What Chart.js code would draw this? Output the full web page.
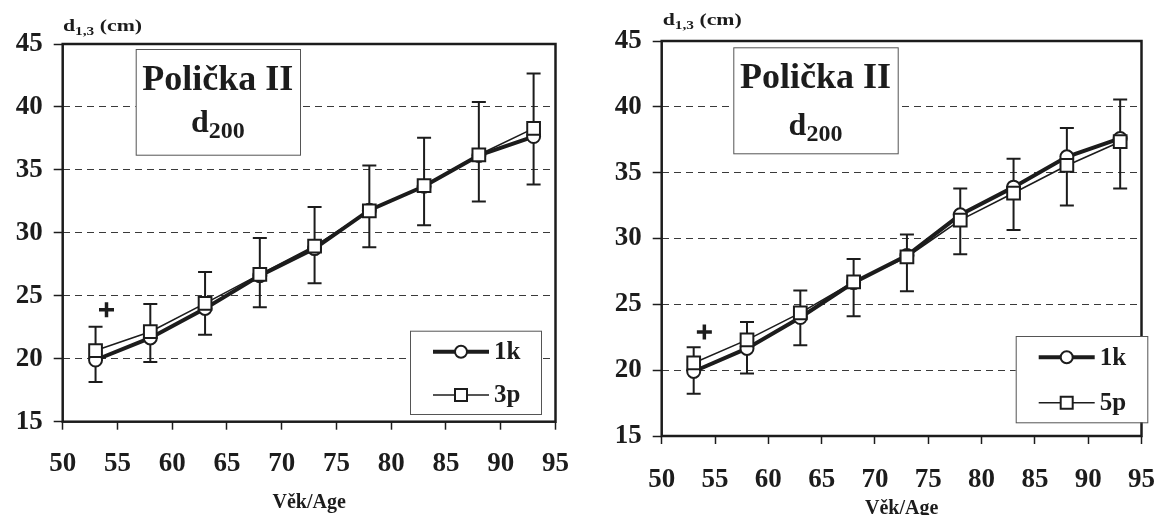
<!DOCTYPE html>
<html>
<head>
<meta charset="utf-8">
<script src="https://cdn.jsdelivr.net/npm/chart.js@4.4.0/dist/chart.umd.min.js"></script>
<style>
  html, body { margin: 0; padding: 0; background: #fff; }
  #wrap { position: relative; width: 1175px; height: 515px; }
  .panel { position: absolute; top: 0; height: 515px; }
</style>
</head>
<body>
<div id="wrap">
  <div class="panel" style="left:0;width:587px"><canvas id="chartLeft" width="587" height="515"></canvas></div>
  <div class="panel" style="left:587px;width:588px"><canvas id="chartRight" width="588" height="515"></canvas></div>
</div>
<script>
// ages (x values) shared by both panels
const ages = [53, 58, 63, 68, 73, 78, 83, 88, 93];

// left panel: 1k vs 3p
const left1k = [19.9, 21.65, 24.0, 26.6, 28.75, 31.8, 33.7, 36.15, 37.65];
const left3p = [20.65, 22.15, 24.4, 26.7, 28.95, 31.75, 33.75, 36.2, 38.3];
const leftErrLow = [18.15, 19.75, 21.9, 24.1, 26.0, 28.85, 30.6, 32.5, 33.85];
const leftErrHigh = [22.55, 24.35, 26.9, 29.6, 32.05, 35.35, 37.55, 40.4, 42.65];
const leftPlus = [{ x: 54, y: 23.9 }];

// right panel: 1k vs 5p
const right1k = [19.9, 21.65, 24.0, 26.65, 28.7, 31.8, 33.9, 36.2, 37.6];
const right5p = [20.55, 22.3, 24.35, 26.7, 28.6, 31.4, 33.45, 35.55, 37.35];
const rightErrLow = [18.2, 19.75, 21.9, 24.1, 26.0, 28.8, 30.65, 32.5, 33.8];
const rightErrHigh = [21.75, 23.65, 26.05, 28.45, 30.3, 33.8, 36.05, 38.4, 40.55];
const rightPlus = [{ x: 54, y: 22.9 }];

const FONT = "'Liberation Serif', 'Times New Roman', serif";
const INK = '#1c1c1c';

function pts(vals) {
  return ages.map((a, i) => ({ x: a, y: vals[i] }));
}

function drawSub(ctx, base, sub, x, y, baseSize, subSize, drop, align) {
  ctx.font = `bold ${baseSize}px ${FONT}`;
  const wb = ctx.measureText(base).width;
  ctx.font = `bold ${subSize}px ${FONT}`;
  const ws = ctx.measureText(sub).width;
  let sx = align === 'center' ? x - (wb + ws) / 2 : x;
  ctx.textAlign = 'left';
  ctx.textBaseline = 'alphabetic';
  ctx.font = `bold ${baseSize}px ${FONT}`;
  ctx.fillText(base, sx, y);
  ctx.font = `bold ${subSize}px ${FONT}`;
  ctx.fillText(sub, sx + wb, y + drop);
  return sx + wb + ws;
}

function makePanel(id, p) {
  const decor = {
    id: 'decor' + id,
    beforeDatasetsDraw(chart) {
      const { ctx, chartArea: a, scales: { x, y } } = chart;
      ctx.save();
      // error bars
      ctx.strokeStyle = INK;
      ctx.lineWidth = 2;
      ages.forEach((age, i) => {
        const px = x.getPixelForValue(age);
        const t = y.getPixelForValue(p.errHigh[i]);
        const b = y.getPixelForValue(p.errLow[i]);
        ctx.beginPath();
        ctx.moveTo(px, t); ctx.lineTo(px, b);
        ctx.moveTo(px - 7, t); ctx.lineTo(px + 7, t);
        ctx.moveTo(px - 7, b); ctx.lineTo(px + 7, b);
        ctx.stroke();
      });
      // frame
      ctx.lineWidth = 2.5;
      ctx.strokeRect(a.left, a.top, a.right - a.left, a.bottom - a.top);
      ctx.restore();
    },
    afterDraw(chart) {
      const { ctx } = chart;
      ctx.save();
      ctx.fillStyle = INK;
      // unit label above the y axis (text is drawn a bit wide, as in the source)
      ctx.save();
      ctx.translate(p.unit.x, p.unit.y);
      ctx.scale(1.28, 1);
      const end = drawSub(ctx, 'd', '1,3', 0, 0, 17, 12, 4, 'left');
      ctx.font = `bold 17px ${FONT}`;
      ctx.fillText(' (cm)', end, 0);
      ctx.restore();

      // title box
      const tb = p.titleBox;
      ctx.fillStyle = '#fff';
      ctx.fillRect(tb.x, tb.y, tb.w, tb.h);
      ctx.strokeStyle = '#555';
      ctx.lineWidth = 1;
      ctx.strokeRect(tb.x + 0.5, tb.y + 0.5, tb.w, tb.h);
      ctx.fillStyle = INK;
      ctx.font = `bold 36px ${FONT}`;
      ctx.textAlign = 'center';
      ctx.textBaseline = 'alphabetic';
      ctx.fillText('Polička II', tb.x + tb.w / 2, tb.line1);
      drawSub(ctx, 'd', '200', tb.x + tb.w / 2, tb.line2, 32, 24, 6, 'center');

      // legend box
      const lb = p.legendBox;
      ctx.fillStyle = '#fff';
      ctx.fillRect(lb.x, lb.y, lb.w, lb.h);
      ctx.strokeStyle = '#555';
      ctx.lineWidth = 1;
      ctx.strokeRect(lb.x + 0.5, lb.y + 0.5, lb.w, lb.h);
      const rows = chart.data.datasets.filter(d => d.inLegend).sort((m, n) => m.legendRow - n.legendRow);
      rows.forEach((ds, r) => {
        const ry = lb.y + lb.rowY[r];
        const x0 = lb.x + 23, x1 = lb.x + 79, cx = (x0 + x1) / 2;
        ctx.strokeStyle = INK;
        ctx.lineWidth = ds.borderWidth;
        ctx.beginPath(); ctx.moveTo(x0, ry); ctx.lineTo(x1, ry); ctx.stroke();
        ctx.lineWidth = 2;
        ctx.fillStyle = '#fff';
        ctx.beginPath();
        if (ds.pointStyle === 'circle') {
          ctx.arc(cx, ry, 6, 0, Math.PI * 2);
        } else {
          ctx.rect(cx - 6, ry - 6, 12, 12);
        }
        ctx.fill(); ctx.stroke();
        ctx.fillStyle = INK;
        ctx.font = `bold 25px ${FONT}`;
        ctx.textAlign = 'left';
        ctx.textBaseline = 'middle';
        ctx.fillText(ds.label, x1 + 5, ry + 1);
      });
      ctx.restore();
    }
  };

  return new Chart(document.getElementById(id), {
    type: 'line',
    data: {
      datasets: [
        {
          label: p.otherLabel,
          data: pts(p.other),
          borderColor: INK, borderWidth: 1.6,
          pointStyle: 'rect', pointRadius: 9, pointBorderWidth: 2,
          pointBackgroundColor: '#fff', pointBorderColor: INK,
          tension: 0, order: 1, inLegend: true, legendRow: 1
        },
        {
          label: '1k',
          data: pts(p.k1),
          borderColor: INK, borderWidth: 4,
          pointStyle: 'circle', pointRadius: 6.5, pointBorderWidth: 2,
          pointBackgroundColor: '#fff', pointBorderColor: INK,
          tension: 0, order: 2, inLegend: true, legendRow: 0
        },
        {
          label: '+',
          data: p.plus,
          showLine: false,
          pointStyle: 'cross', pointRadius: 7.5, pointBorderWidth: 3.5,
          pointBorderColor: INK, borderColor: INK, order: 0
        }
      ]
    },
    options: {
      responsive: false,
      animation: false,
      layout: { padding: p.pad },
      plugins: { legend: { display: false }, tooltip: { enabled: false } },
      scales: {
        x: {
          type: 'linear', min: 50, max: 95,
          ticks: { stepSize: 5, color: INK, padding: p.xTickPad, font: { family: FONT, size: 27, weight: 'bold' } },
          grid: { drawOnChartArea: false, drawTicks: true, tickLength: 8, tickColor: INK, tickWidth: 1.5 },
          border: { display: false },
          title: { display: true, text: 'Věk/Age', color: INK, padding: p.titlePad, font: { family: FONT, size: 20, weight: 'bold', lineHeight: 1 } },
          afterFit(s) { s.height = p.xAxisH; }
        },
        y: {
          min: 15, max: 45,
          ticks: { stepSize: 5, color: INK, padding: 11, font: { family: FONT, size: 27, weight: 'bold' } },
          grid: { color: '#3a3a3a', lineWidth: 1, drawTicks: true, tickLength: 9, tickColor: INK, tickWidth: 1.5, tickBorderDash: [] },
          border: { display: false, dash: [7, 5] },
          afterFit(s) { s.width = 50; }
        }
      }
    },
    plugins: [decor]
  });
}

makePanel('chartLeft', {
  k1: left1k, other: left3p, otherLabel: '3p',
  errLow: leftErrLow, errHigh: leftErrHigh, plus: leftPlus,
  pad: { left: 12.7, top: 44, right: 31.3, bottom: 2.3 },
  xAxisH: 91, xTickPad: 18, titlePad: { top: 0, bottom: 0 },
  unit: { x: 63, y: 31 },
  titleBox: { x: 135.7, y: 49, w: 164.3, h: 105.7, line1: 90, line2: 131.5 },
  legendBox: { x: 410, y: 330.7, w: 131, h: 83.3, rowY: [21, 64.3] }
});

makePanel('chartRight', {
  k1: right1k, other: right5p, otherLabel: '5p',
  errLow: rightErrLow, errHigh: rightErrHigh, plus: rightPlus,
  pad: { left: 24.7, top: 41, right: 15.7, bottom: 0 },
  xAxisH: 79, xTickPad: 20, titlePad: { top: 0, bottom: -4 },
  unit: { x: 75.7, y: 25 },
  titleBox: { x: 146.3, y: 47.3, w: 164.4, h: 106, line1: 88.3, line2: 135 },
  legendBox: { x: 428.7, y: 336, w: 131.6, h: 86.3, rowY: [21.3, 66.7] }
});
</script>
</body>
</html>
